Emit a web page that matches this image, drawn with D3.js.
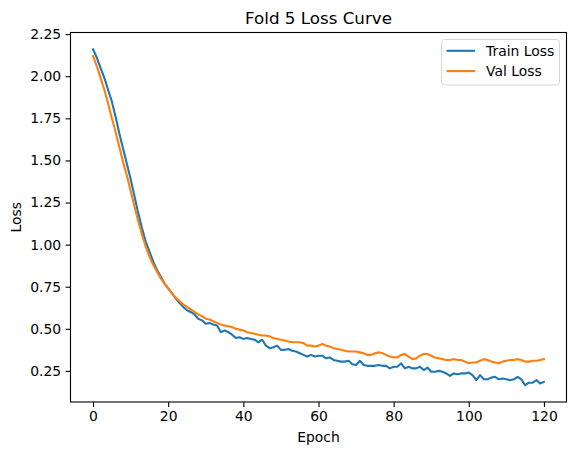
<!DOCTYPE html>
<html>
<head>
<meta charset="utf-8">
<script src="https://cdn.jsdelivr.net/npm/d3@7"></script>
<style>
  body { margin: 0; background: #fff; }
  svg { display: block; font-family: "DejaVu Sans", sans-serif; }
</style>
</head>
<body>
<div id="wrapper"></div>
<script>
const trainLoss = [
  2.16, 2.11, 2.05, 1.99, 1.92, 1.85, 1.76, 1.66, 1.57, 1.48,
  1.39, 1.29, 1.19, 1.10, 1.02, 0.96, 0.90, 0.85, 0.81, 0.77,
  0.74, 0.71, 0.68, 0.655, 0.63, 0.61, 0.60, 0.585, 0.56, 0.55,
  0.53, 0.535, 0.525, 0.52, 0.48, 0.49, 0.48, 0.465, 0.445, 0.45,
  0.44, 0.445, 0.44, 0.435, 0.42, 0.435, 0.40, 0.385, 0.39, 0.40,
  0.375, 0.375, 0.38, 0.37, 0.365, 0.355, 0.345, 0.335, 0.345, 0.335,
  0.34, 0.34, 0.325, 0.33, 0.315, 0.31, 0.305, 0.305, 0.31, 0.29,
  0.285, 0.31, 0.285, 0.28, 0.28, 0.28, 0.285, 0.28, 0.28, 0.265,
  0.275, 0.275, 0.295, 0.265, 0.275, 0.265, 0.265, 0.275, 0.255, 0.27,
  0.245, 0.245, 0.25, 0.245, 0.235, 0.22, 0.235, 0.23, 0.235, 0.235,
  0.24, 0.225, 0.195, 0.225, 0.20, 0.20, 0.21, 0.215, 0.20, 0.205,
  0.20, 0.195, 0.20, 0.215, 0.20, 0.165, 0.18, 0.18, 0.195, 0.175,
  0.185
]

const valLoss = [
  2.12, 2.06, 1.99, 1.92, 1.84, 1.75, 1.67, 1.58, 1.49, 1.41,
  1.32, 1.23, 1.14, 1.06, 0.99, 0.93, 0.88, 0.84, 0.80, 0.77,
  0.74, 0.71, 0.685, 0.665, 0.645, 0.63, 0.615, 0.60, 0.585, 0.575,
  0.56, 0.555, 0.545, 0.535, 0.525, 0.52, 0.515, 0.51, 0.50, 0.495,
  0.49, 0.48, 0.475, 0.47, 0.465, 0.46, 0.46, 0.455, 0.445, 0.44,
  0.435, 0.43, 0.425, 0.42, 0.42, 0.42, 0.415, 0.40, 0.40, 0.395,
  0.40, 0.41, 0.40, 0.395, 0.385, 0.38, 0.375, 0.37, 0.365, 0.365,
  0.365, 0.36, 0.355, 0.345, 0.345, 0.355, 0.36, 0.355, 0.345, 0.335,
  0.33, 0.33, 0.345, 0.35, 0.335, 0.32, 0.325, 0.34, 0.35, 0.35,
  0.34, 0.33, 0.325, 0.32, 0.315, 0.315, 0.32, 0.315, 0.315, 0.305,
  0.295, 0.30, 0.30, 0.31, 0.32, 0.315, 0.305, 0.30, 0.295, 0.305,
  0.31, 0.315, 0.315, 0.32, 0.315, 0.305, 0.305, 0.31, 0.31, 0.315,
  0.32
]

const epochs = d3.range(trainLoss.length)
const xTicks = [0, 20, 40, 60, 80, 100, 120]
const yTicks = [0.25, 0.50, 0.75, 1.00, 1.25, 1.50, 1.75, 2.00, 2.25]
const seriesNames = ['Train Loss', 'Val Loss']
const seriesColors = ['#1f77b4', '#ff7f0e']

const drawChart = () => {
    const dimensions = {
        width: 576,
        height: 455,
        margin: { top: 32.5, right: 9.5, bottom: 53, left: 70.5 }
    }
    dimensions.boundedWidth = dimensions.width - dimensions.margin.left - dimensions.margin.right
    dimensions.boundedHeight = dimensions.height - dimensions.margin.top - dimensions.margin.bottom

    const wrapper = d3.select('#wrapper')
        .append('svg')
        .attr('width', dimensions.width)
        .attr('height', dimensions.height)

    const bounds = wrapper.append('g')
        .attr('transform', `translate(${dimensions.margin.left}, ${dimensions.margin.top})`)

    // matplotlib-style 5% padding around the data
    const xPad = 0.05 * (epochs.length - 1)
    const scaleX = d3.scaleLinear()
        .domain([-xPad, epochs.length - 1 + xPad])
        .range([0, dimensions.boundedWidth])

    const allVals = trainLoss.concat(valLoss)
    const yMin = d3.min(allVals)
    const yMax = d3.max(allVals)
    const yPad = 0.05 * (yMax - yMin)
    const scaleY = d3.scaleLinear()
        .domain([yMin - yPad, yMax + yPad])
        .range([dimensions.boundedHeight, 0])

    const lineGen = d3.line()
        .x((d, i) => scaleX(epochs[i]))
        .y(d => scaleY(d))

    const series = [trainLoss, valLoss]
    bounds.append('g')
        .selectAll('path')
        .data(series)
        .join('path')
        .attr('d', d => lineGen(d))
        .attr('fill', 'none')
        .attr('stroke', (d, i) => seriesColors[i])
        .attr('stroke-width', 2.1)
        .attr('stroke-linejoin', 'round')
        .attr('stroke-linecap', 'square')

    // axes
    const xAxis = bounds.append('g')
        .attr('transform', `translate(0, ${dimensions.boundedHeight})`)
        .call(d3.axisBottom(scaleX).tickValues(xTicks).tickSize(4.9).tickPadding(4.5).tickFormat(d3.format('d')))
    const yAxis = bounds.append('g')
        .call(d3.axisLeft(scaleY).tickValues(yTicks).tickSize(4.9).tickPadding(4.5).tickFormat(d3.format('.2f')))

    ;[xAxis, yAxis].forEach(ax => {
        ax.select('.domain').remove()
        ax.selectAll('line').attr('stroke', '#000').attr('stroke-width', 1.1)
        ax.selectAll('text')
            .attr('fill', '#000')
            .style('font-family', '"DejaVu Sans", sans-serif')
            .style('font-size', '13.9px')
    })

    // frame
    bounds.append('rect')
        .attr('width', dimensions.boundedWidth)
        .attr('height', dimensions.boundedHeight)
        .attr('fill', 'none')
        .attr('stroke', '#000')
        .attr('stroke-width', 1.1)

    // title and labels
    wrapper.append('text')
        .text('Fold 5 Loss Curve')
        .attr('x', dimensions.margin.left + dimensions.boundedWidth / 2)
        .attr('y', 24)
        .style('font-size', '16.7px')
        .style('text-anchor', 'middle')

    wrapper.append('text')
        .text('Epoch')
        .attr('x', dimensions.margin.left + dimensions.boundedWidth / 2)
        .attr('y', 442)
        .style('font-size', '13.9px')
        .style('text-anchor', 'middle')

    wrapper.append('text')
        .text('Loss')
        .attr('transform', `translate(21, ${dimensions.margin.top + dimensions.boundedHeight / 2}) rotate(-90)`)
        .style('font-size', '13.9px')
        .style('text-anchor', 'middle')

    // legend
    const legend = wrapper.append('g')
        .attr('transform', 'translate(441.5, 39.5)')
    legend.append('rect')
        .attr('width', 118)
        .attr('height', 45.5)
        .attr('rx', 3)
        .attr('fill', '#fff')
        .attr('fill-opacity', 0.8)
        .attr('stroke', '#d6d6d6')
        .attr('stroke-width', 1)
    const items = legend.selectAll('g.item')
        .data(seriesNames)
        .join('g')
        .attr('class', 'item')
        .attr('transform', (d, i) => `translate(0, ${11.3 + i * 20.3})`)
    items.append('line')
        .attr('x1', 5)
        .attr('x2', 33.5)
        .attr('stroke', (d, i) => seriesColors[i])
        .attr('stroke-width', 2.1)
    items.append('text')
        .text(d => d)
        .attr('x', 44.5)
        .attr('y', 4.9)
        .style('font-size', '13.9px')
}
drawChart()
</script>
</body>
</html>
